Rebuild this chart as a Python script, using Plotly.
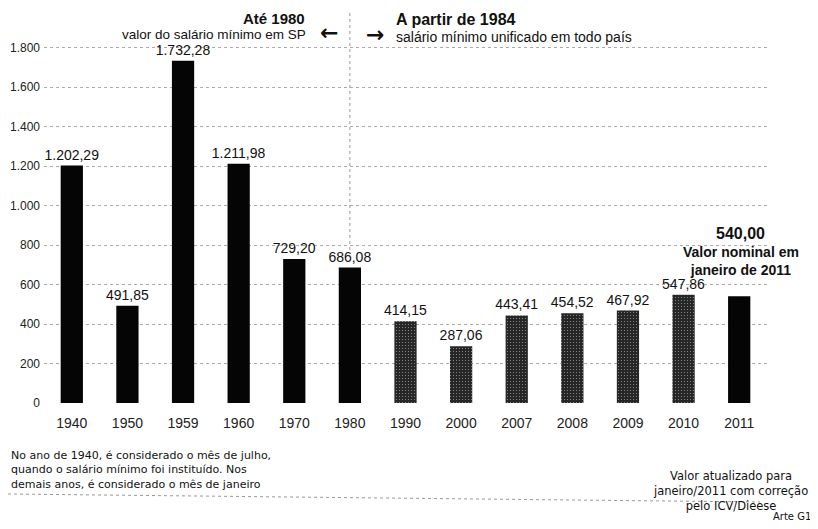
import plotly.graph_objects as go

years = ["1940", "1950", "1959", "1960", "1970", "1980", "1990", "2000",
         "2007", "2008", "2009", "2010", "2011"]
values = [1202.29, 491.85, 1732.28, 1211.98, 729.20, 686.08, 414.15, 287.06,
          443.41, 454.52, 467.92, 547.86, 540.00]
y_ticks = [0, 200, 400, 600, 800, 1000, 1200, 1400, 1600, 1800]

def fmt(v):
    s = f"{v:,.2f}"
    return s.replace(",", "X").replace(".", ",").replace("X", ".")

labels = [fmt(v) for v in values[:-1]] + [""]
colors = ["#050505"] * 6 + ["#262626"] * 6 + ["#050505"]
pattern_shapes = [""] * 6 + ["."] * 6 + [""]

FONT = "Liberation Sans, Arial, sans-serif"
NOTE_FONT = "DejaVu Sans, Liberation Sans, sans-serif"

# page body has an 8px margin: draw on a 810x521 canvas, offset by 8px
OFF = 8
W, H = 818 - OFF, 529 - OFF
ZERO_Y = 403          # reference pixel row of the value 0
TOP_Y = 38            # reference pixel row of the plot top
L, T = 44 - OFF, TOP_Y - OFF
R = W - (767 - OFF)
B = H - (ZERO_Y - OFF)
PW, PH = W - L - R, H - T - B
Y_MAX = (ZERO_Y - TOP_Y) / 0.1975

def px(x):
    return (x - OFF - L) / PW

def py(y):
    return (H - B - (y - OFF)) / PH

fig = go.Figure()
fig.add_trace(go.Bar(
    x=years, y=values, width=0.4,
    marker=dict(color=colors, line=dict(width=0),
                pattern=dict(shape=pattern_shapes, fgcolor="#7a7a7a",
                             size=3, solidity=0.12)),
    text=labels, textposition="outside", cliponaxis=False,
    constraintext="none",
    textfont=dict(family=FONT, size=14, color="#111"),
    outsidetextfont=dict(family=FONT, size=14, color="#111"),
    hoverinfo="skip",
))

fig.update_layout(
    width=W, height=H,
    margin=dict(l=L, r=R, t=T, b=B, autoexpand=False),
    paper_bgcolor="white", plot_bgcolor="white",
    separators=",.",
    showlegend=False,
    font=dict(family=FONT, color="#111"),
    xaxis=dict(type="category", range=[-0.5, 12.5], showgrid=False,
               showline=False, ticks="", ticklabelstandoff=10,
               tickfont=dict(size=14, color="#222")),
    yaxis=dict(range=[0, Y_MAX], tickvals=y_ticks, tickformat=",d",
               showgrid=True, gridcolor="#aaaaaa", griddash="dot",
               gridwidth=1, zeroline=False, showline=False, ticks="",
               ticklabelstandoff=3,
               tickfont=dict(size=12, color="#222")),
)

# divider between the two periods
fig.add_shape(type="line", xref="x", yref="paper", x0=5, x1=5,
              y0=py(250), y1=py(10),
              line=dict(color="#999", width=1, dash="dot"))

ann = [
    dict(x=307, y=18, text="<b>Até 1980</b>", size=15, xanchor="right", font=FONT, align="right"),
    dict(x=308, y=34, text="valor do salário mínimo em SP", size=13.5, xanchor="right", font=FONT, align="right"),
    dict(x=329, y=33, text="<b>←</b>", size=22, xanchor="center", font=NOTE_FONT, align="center"),
    dict(x=375, y=35, text="<b>→</b>", size=22, xanchor="center", font=NOTE_FONT, align="center"),
    dict(x=394, y=20, text="<b>A partir de 1984</b>", size=16, xanchor="left", font=FONT, align="left"),
    dict(x=394, y=37, text="salário mínimo unificado em todo país", size=14, xanchor="left", font=FONT, align="left"),
    dict(x=740, y=233, text="<b>540,00</b>", size=16, xanchor="center", font=FONT, align="center"),
    dict(x=741, y=261, text="<b>Valor nominal em<br>janeiro de 2011</b>", size=14,
         xanchor="center", font=FONT, align="center"),
    dict(x=9, y=470, text="No ano de 1940, é considerado o mês de julho,<br>"
                          "quando o salário mínimo foi instituído. Nos<br>"
                          "demais anos, é considerado o mês de janeiro",
         size=11, xanchor="left", font=NOTE_FONT, align="left"),
    dict(x=730, y=491, text="Valor atualizado para<br>janeiro/2011 com correção<br>pelo ICV/Dieese",
         size=11.5, xanchor="center", font=NOTE_FONT, align="center"),
    dict(x=813, y=516, text="Arte G1", size=10, xanchor="right", font=NOTE_FONT, align="right"),
]
for a in ann:
    fig.add_annotation(x=px(a["x"]), y=py(a["y"]), xref="paper", yref="paper",
                       text=a["text"], showarrow=False, xanchor=a["xanchor"],
                       yanchor="middle", align=a["align"],
                       font=dict(family=a["font"], size=a["size"], color="#111"))

# bottom dotted separator line
fig.add_shape(type="line", xref="paper", yref="paper", x0=px(8), x1=px(760),
              y0=py(494), y1=py(502),
              line=dict(color="#999", width=1, dash="dot"))

fig.write_html("out.html")
